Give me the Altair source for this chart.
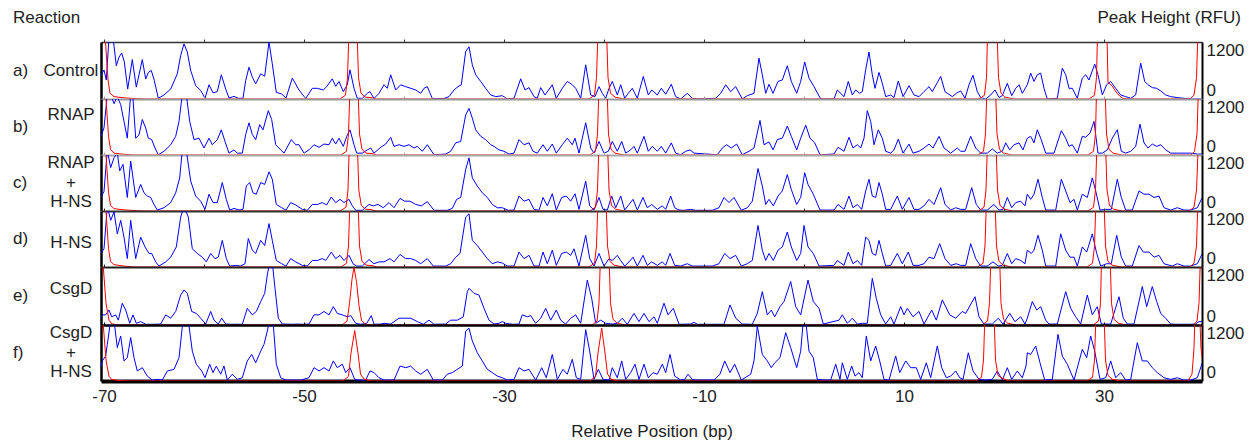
import altair as alt
import pandas as pd

# ---------------- labels ----------------
LETTERS = ["a)", "b)", "c)", "d)", "e)", "f)"]
NAMES = ["Control", "RNAP", "RNAP\n+\nH-NS", "H-NS", "CsgD", "CsgD\n+\nH-NS"]
NAME_DY = [0, -12, -20, 4, -7, -20]
X_LABEL_TICKS = [-70, -50, -30, -10, 10, 30]
X_MINOR_TICKS = [-70, -60, -50, -40, -30, -20, -10, 0, 10, 20, 30]
Y_TICKS = [0, 1200]
X_DOMAIN = [-70.3, 39.8]
Y_DOMAIN = [0, 1200]

# ---------------- blue traces (position bp, RFU) ----------------
BLUE_A = [(-70.3, 500), (-70.0, 610), (-69.77, 400), (-69.5, 1300), (-69.1, 1300), (-68.77, 700), (-68.5, 880), (-68.23, 970), (-67.97, 780), (-67.63, 210), (-67.17, 830), (-66.77, 250), (-66.17, 830), (-65.83, 420), (-65.57, 560), (-65.27, 600), (-64.97, 390), (-64.57, 15), (-64.0, 85), (-63.33, 210), (-62.67, 530), (-62.33, 920), (-62.0, 1160), (-61.67, 990), (-61.33, 600), (-60.83, 280), (-60.33, 180), (-59.9, 15), (-59.5, 300), (-59.1, 130), (-58.67, 155), (-58.27, 510), (-57.83, 210), (-57.5, 20), (-57.0, 55), (-56.57, 15), (-56.1, 15), (-55.83, 390), (-55.5, 670), (-55.17, 460), (-54.83, 320), (-54.33, 530), (-53.93, 480), (-53.5, 1200), (-53.17, 740), (-52.77, 140), (-52.23, 105), (-51.8, 20),
          (-51.17, 440), (-50.5, 190), (-49.83, 10), (-49.17, 225), (-48.67, 225), (-48.07, 190), (-47.73, 260), (-47.17, 425), (-46.83, 265), (-46.5, 370), (-46.07, 155), (-45.67, 300), (-45.4, 615), (-45.0, 225), (-44.67, 15), (-44.17, 15), (-43.67, 120), (-43.4, 155), (-43.0, 10), (-42.5, 120), (-42.0, 300), (-41.67, 225), (-41.33, 510), (-40.83, 190), (-40.33, 300), (-39.83, 260), (-39.33, 225), (-38.83, 190), (-38.33, 120), (-38.0, 225), (-37.67, 260), (-37.17, 10), (-36.0, 10), (-35.5, 50), (-35.0, 190), (-34.6, 260), (-34.27, 300), (-33.83, 1000), (-33.5, 1100),
          (-33.17, 720), (-32.83, 510), (-32.33, 370), (-31.83, 225), (-31.33, 85), (-30.83, 50), (-30.17, 70), (-29.67, 0), (-29.0, 15), (-28.33, 425), (-27.9, 190), (-27.5, 240), (-27.0, 50), (-26.67, 15), (-26.33, 240), (-25.9, 85), (-25.17, 300), (-24.77, 15), (-24.17, 225), (-23.67, 370), (-23.17, 300), (-22.83, 225), (-22.33, 15), (-21.83, 720), (-21.33, 85), (-20.9, 50), (-20.5, 260), (-20.17, 120), (-19.83, 15), (-19.5, 225), (-19.17, 370), (-18.67, 85), (-18.33, 300), (-17.93, 15), (-17.57, 120), (-17.17, 225), (-16.67, 15), (-16.07, 475), (-15.57, 85), (-15.23, 190),
          (-14.67, 85), (-14.27, 225), (-13.83, 100), (-13.27, 310), (-12.83, 50), (-12.33, 0), (-11.67, 120), (-11.17, 15), (-10.67, 0), (-8.83, 15), (-8.33, 120), (-7.83, 300), (-7.33, 155), (-6.83, 260), (-6.17, 0), (-5.67, 70), (-5.0, 120), (-4.5, 860), (-4.17, 510), (-3.83, 120), (-3.5, 310), (-3.1, 120), (-2.6, 370), (-2.17, 400), (-1.67, 700), (-1.27, 370), (-0.73, 120), (-0.33, 370), (0.07, 780), (0.5, 440), (1.0, 260), (1.67, 0), (3.0, 0), (3.33, 190),
          (4.0, 50), (4.43, 370), (4.83, 85), (5.17, 190), (5.57, 120), (5.83, 155), (6.17, 615), (6.5, 990), (6.83, 510), (7.1, 225), (7.5, 560), (7.83, 330), (8.17, 50), (8.67, 85), (9.0, 30), (9.43, 380), (9.9, 50), (10.5, 280), (11.0, 85), (11.5, 50), (12.0, 155), (12.5, 260), (12.83, 155), (13.67, 475), (14.1, 155), (14.83, 50), (15.23, 120), (15.67, 170), (16.1, 15), (16.5, 300), (16.9, 500), (17.33, 155), (17.67, 30), (18.17, 0), (18.67, 85), (19.1, 190), (19.5, 30), (19.83, 70), (20.33, 330), (20.77, 70), (21.17, 225), (21.5, 300), (21.83, 120),
          (22.33, 300), (22.67, 545), (23.0, 370), (23.33, 510), (23.67, 545), (24.0, 225), (24.33, 0), (25.33, 15), (25.83, 650), (26.17, 510), (26.5, 225), (26.83, 225), (27.33, 15), (27.83, 440), (28.17, 510), (28.5, 400), (29.07, 735), (29.4, 510), (29.83, 85), (30.27, 300), (30.67, 370), (31.17, 225), (31.67, 85), (32.17, 50), (32.67, 15), (33.17, 85), (33.67, 755), (34.07, 370), (34.4, 300), (34.83, 240), (35.27, 225), (35.67, 170), (36.17, 85), (36.67, 50), (37.33, 30), (38.0, 15), (38.67, 0), (39.33, 0), (40.0, 0)]

BLUE_B = [(-70.3, 400), (-70.0, 580), (-69.67, 1300), (-69.33, 1300), (-69.0, 1100), (-68.67, 1250), (-68.33, 1080), (-68.0, 720), (-67.67, 360), (-67.33, 1300), (-67.1, 1200), (-66.83, 360), (-66.5, 430), (-66.17, 760), (-65.83, 580), (-65.57, 360), (-65.23, 330), (-64.9, 150), (-64.57, 5), (-64.0, 80), (-63.33, 220), (-62.83, 400), (-62.5, 720), (-62.17, 1300), (-61.77, 1300), (-61.43, 720), (-61.0, 330), (-60.5, 360), (-60.0, 150), (-59.5, 360), (-59.17, 220), (-58.67, 330), (-58.27, 540), (-57.9, 290), (-57.5, 40), (-57.0, 110), (-56.67, 40), (-56.17, 40), (-55.83, 440), (-55.5, 690), (-55.17, 440), (-54.83, 330), (-54.43, 650), (-54.1, 540), (-53.57, 950), (-53.23, 760), (-52.83, 220), (-52.33, 110), (-52.0, 40),
          (-51.27, 330), (-50.83, 220), (-50.5, 220), (-50.0, 40), (-49.5, 110), (-49.0, 220), (-48.5, 165), (-48.0, 235), (-47.5, 220), (-47.17, 360), (-46.83, 235), (-46.5, 360), (-46.07, 185), (-45.73, 400), (-45.4, 540), (-45.0, 220), (-44.73, 40), (-44.17, 40), (-43.67, 110), (-43.33, 150), (-43.0, 40), (-42.33, 165), (-41.83, 235), (-41.33, 380), (-41.0, 185), (-40.5, 220), (-40.0, 185), (-39.5, 220), (-39.0, 150), (-38.67, 185), (-38.17, 80), (-37.67, 220), (-37.0, 5), (-35.83, 20), (-35.33, 80), (-34.83, 260), (-34.33, 290), (-33.83, 860), (-33.5, 1000),
          (-33.17, 790), (-32.83, 540), (-32.33, 400), (-31.83, 330), (-31.33, 220), (-31.0, 185), (-30.5, 110), (-30.0, 80), (-29.5, 20), (-29.0, 40), (-28.5, 330), (-28.0, 220), (-27.5, 260), (-27.1, 80), (-26.67, 40), (-26.1, 220), (-25.67, 80), (-25.17, 235), (-24.77, 40), (-24.17, 220), (-23.67, 360), (-23.17, 220), (-22.9, 360), (-22.5, 40), (-21.83, 690), (-21.33, 150), (-21.0, 40), (-20.5, 290), (-20.0, 40), (-19.57, 80), (-19.17, 290), (-18.67, 80), (-18.23, 290), (-17.83, 40), (-17.33, 110), (-17.0, 185), (-16.67, 40), (-16.0, 400), (-15.57, 80), (-15.17, 185),
          (-14.67, 80), (-14.27, 185), (-13.83, 40), (-13.27, 260), (-12.83, 40), (-12.33, 5), (-11.83, 80), (-11.4, 110), (-11.0, 40), (-8.67, 5), (-8.17, 150), (-7.73, 220), (-7.27, 150), (-6.73, 235), (-6.17, 5), (-5.5, 80), (-5.0, 150), (-4.4, 740), (-4.0, 220), (-3.5, 280), (-3.1, 110), (-2.67, 330), (-2.17, 360), (-1.67, 620), (-1.27, 400), (-0.73, 110), (-0.33, 360), (0.17, 640), (0.6, 360), (1.07, 260), (1.6, 5), (3.0, 20), (3.4, 165),
          (4.0, 80), (4.5, 380), (4.9, 150), (5.33, 220), (5.67, 150), (6.0, 360), (6.33, 950), (6.67, 720), (7.0, 220), (7.43, 540), (7.83, 360), (8.17, 80), (8.67, 40), (9.0, 110), (9.43, 340), (9.9, 40), (10.5, 235), (10.9, 40), (11.5, 80), (12.0, 150), (12.5, 235), (12.9, 150), (13.5, 400), (14.0, 150), (14.67, 40), (15.33, 150), (15.67, 80), (16.1, 80), (16.67, 400), (17.17, 150), (17.67, 40), (18.33, 40), (18.83, 130), (19.33, 40), (19.83, 80), (20.17, 260), (20.57, 110), (21.0, 220), (21.5, 260), (21.9, 110),
          (22.33, 360), (22.67, 400), (23.0, 260), (23.33, 540), (23.67, 360), (24.17, 40), (25.0, 40), (25.73, 520), (26.17, 360), (26.5, 185), (26.83, 220), (27.33, 40), (27.83, 400), (28.17, 380), (28.6, 470), (29.0, 720), (29.4, 40), (29.83, 40), (30.33, 110), (30.83, 360), (31.33, 540), (31.73, 80), (32.17, 40), (32.67, 80), (33.17, 185), (33.6, 660), (34.0, 260), (34.4, 150), (34.83, 235), (35.27, 185), (35.67, 220), (36.17, 110), (36.67, 40), (37.33, 40), (38.0, 40), (38.67, 40), (39.33, 20), (39.8, 20)]

BLUE_C = [(-70.3, 300), (-70.0, 420), (-69.67, 1300), (-69.33, 930), (-69.0, 1140), (-68.67, 1250), (-68.43, 860), (-68.1, 1000), (-67.67, 290), (-67.33, 1070), (-66.83, 290), (-66.33, 570), (-66.0, 390), (-65.67, 320), (-65.33, 290), (-65.0, 140), (-64.67, 20), (-64.0, 70), (-63.33, 180), (-62.83, 390), (-62.43, 710), (-62.17, 1300), (-61.77, 1300), (-61.33, 640), (-60.83, 320), (-60.33, 210), (-59.9, 35), (-59.5, 360), (-59.1, 180), (-58.67, 180), (-58.17, 610), (-57.77, 250), (-57.43, 20), (-57.0, 55), (-56.5, 20), (-56.1, 35), (-55.77, 535), (-55.43, 610), (-55.1, 390), (-54.77, 360), (-54.33, 610), (-53.93, 570), (-53.5, 840), (-53.17, 680), (-52.77, 140), (-52.23, 70), (-51.8, 20),
          (-51.33, 180), (-50.83, 130), (-50.17, 35), (-49.67, 15), (-49.17, 140), (-48.67, 140), (-48.17, 180), (-47.73, 130), (-47.27, 300), (-46.83, 180), (-46.4, 250), (-46.0, 180), (-45.5, 250), (-45.17, 110), (-44.83, 15), (-44.17, 15), (-43.5, 140), (-43.07, 110), (-42.6, 140), (-42.07, 70), (-41.5, 180), (-41.0, 70), (-40.4, 270), (-39.93, 210), (-39.4, 210), (-38.83, 140), (-38.27, 110), (-37.67, 200), (-37.0, 15), (-35.67, 15), (-35.17, 55), (-34.73, 250), (-34.33, 290), (-33.83, 890), (-33.5, 1140),
          (-33.17, 710), (-32.67, 535), (-32.17, 390), (-31.67, 290), (-31.17, 140), (-30.67, 70), (-30.17, 70), (-29.57, 15), (-29.0, 20), (-28.5, 320), (-28.0, 210), (-27.5, 250), (-27.0, 35), (-26.5, 15), (-26.1, 290), (-25.67, 110), (-25.17, 370), (-24.77, 20), (-24.23, 290), (-23.77, 320), (-23.33, 210), (-22.9, 370), (-22.5, 35), (-21.83, 640), (-21.43, 110), (-21.0, 20), (-20.5, 290), (-20.1, 35), (-19.67, 20), (-19.23, 320), (-18.83, 70), (-18.33, 320), (-17.93, 20), (-17.5, 140), (-17.1, 250), (-16.67, 20), (-16.1, 290), (-15.67, 70), (-15.23, 140),
          (-14.67, 35), (-14.17, 110), (-13.83, 35), (-13.33, 320), (-12.93, 70), (-12.5, 20), (-12.0, 15), (-11.33, 35), (-10.83, 15), (-9.17, 15), (-8.5, 70), (-8.0, 290), (-7.5, 180), (-7.0, 290), (-6.27, 15), (-5.67, 70), (-5.17, 210), (-4.6, 910), (-4.17, 535), (-3.83, 140), (-3.5, 250), (-3.07, 110), (-2.6, 320), (-2.17, 430), (-1.67, 780), (-1.27, 460), (-0.73, 140), (-0.33, 290), (0.07, 820), (0.4, 570), (0.93, 360), (1.6, 20), (3.0, 20), (3.4, 140),
          (4.0, 35), (4.5, 320), (4.9, 70), (5.33, 140), (5.77, 35), (6.17, 430), (6.5, 680), (6.83, 320), (7.17, 290), (7.5, 610), (7.83, 360), (8.17, 35), (8.67, 35), (9.33, 320), (9.83, 35), (10.5, 290), (11.0, 35), (11.5, 35), (12.0, 110), (12.5, 250), (13.0, 140), (13.67, 500), (14.1, 140), (14.67, 20), (15.17, 70), (15.67, 35), (16.17, 35), (16.77, 500), (17.23, 140), (17.67, 20), (18.33, 20), (19.0, 140), (19.5, 20), (19.9, 35), (20.33, 290), (20.77, 70), (21.17, 180), (21.67, 210), (22.1, 110),
          (22.33, 360), (22.67, 250), (23.0, 360), (23.4, 680), (23.83, 290), (24.17, 20), (25.17, 20), (25.73, 680), (26.17, 430), (26.6, 180), (27.0, 250), (27.33, 20), (27.83, 360), (28.33, 290), (28.83, 710), (29.17, 430), (29.6, 20), (30.17, 35), (30.73, 35), (31.33, 680), (31.73, 290), (32.17, 20), (32.83, 20), (33.5, 430), (34.0, 360), (34.5, 360), (35.0, 290), (35.5, 320), (36.0, 70), (36.67, 20), (37.33, 70), (38.0, 20), (38.67, 20), (39.33, 70), (39.83, 290)]

BLUE_D = [(-70.3, 300), (-70.0, 390), (-69.67, 1300), (-69.33, 1000), (-69.0, 1180), (-68.67, 710), (-68.33, 1000), (-68.0, 640), (-67.67, 180), (-67.33, 1000), (-66.83, 180), (-66.33, 640), (-65.9, 430), (-65.5, 290), (-65.23, 290), (-64.83, 110), (-64.5, 20), (-63.83, 110), (-63.33, 210), (-62.77, 430), (-62.33, 1070), (-62.0, 1300), (-61.57, 1070), (-61.17, 390), (-60.67, 290), (-60.17, 210), (-59.77, 110), (-59.33, 290), (-58.9, 180), (-58.57, 210), (-58.17, 570), (-57.77, 180), (-57.43, 20), (-56.83, 35), (-56.33, 20), (-55.9, 70), (-55.57, 610), (-55.17, 360), (-54.83, 290), (-54.33, 570), (-53.93, 460), (-53.5, 930), (-53.17, 570), (-52.77, 140), (-52.23, 70), (-51.8, 20),
          (-51.33, 180), (-50.83, 110), (-50.17, 35), (-49.67, 20), (-49.17, 140), (-48.67, 140), (-48.17, 180), (-47.83, 140), (-47.27, 320), (-46.83, 180), (-46.4, 250), (-46.0, 140), (-45.5, 250), (-45.1, 70), (-44.73, 20), (-44.17, 20), (-43.5, 160), (-43.0, 70), (-42.5, 110), (-42.0, 110), (-41.4, 180), (-41.0, 110), (-40.4, 270), (-39.83, 180), (-39.33, 180), (-38.83, 140), (-38.33, 70), (-37.67, 180), (-37.07, 20), (-35.83, 20), (-35.33, 70), (-34.83, 210), (-34.4, 290), (-33.83, 1070), (-33.5, 1140),
          (-33.17, 570), (-32.67, 460), (-32.17, 320), (-31.67, 180), (-31.17, 70), (-30.67, 110), (-30.17, 85), (-29.67, 20), (-29.0, 20), (-28.5, 320), (-28.0, 180), (-27.5, 250), (-27.0, 20), (-26.5, 20), (-26.1, 320), (-25.67, 70), (-25.17, 360), (-24.77, 35), (-24.23, 290), (-23.77, 320), (-23.33, 250), (-23.0, 390), (-22.5, 20), (-21.83, 680), (-21.43, 180), (-21.0, 20), (-20.5, 290), (-20.0, 20), (-19.5, 180), (-19.17, 140), (-18.67, 250), (-18.33, 140), (-17.93, 20), (-17.5, 110), (-17.1, 210), (-16.67, 20), (-16.1, 250), (-15.67, 35), (-15.23, 110),
          (-14.67, 35), (-14.17, 110), (-13.83, 35), (-13.4, 290), (-12.93, 35), (-12.33, 20), (-11.67, 70), (-11.17, 20), (-9.17, 20), (-8.5, 70), (-7.93, 290), (-7.4, 180), (-6.83, 250), (-6.27, 20), (-5.67, 70), (-5.17, 140), (-4.6, 890), (-4.17, 360), (-3.83, 140), (-3.5, 290), (-3.07, 140), (-2.6, 360), (-2.17, 430), (-1.67, 750), (-1.27, 430), (-0.73, 140), (-0.33, 290), (0.0, 890), (0.4, 430), (0.93, 290), (1.5, 20), (3.0, 35), (3.33, 140),
          (4.0, 35), (4.43, 320), (4.9, 70), (5.33, 140), (5.77, 35), (6.17, 640), (6.5, 570), (6.83, 290), (7.17, 250), (7.5, 570), (7.83, 290), (8.17, 20), (8.67, 35), (9.33, 290), (9.83, 70), (10.43, 320), (10.9, 35), (11.5, 35), (12.0, 70), (12.5, 210), (13.0, 180), (13.57, 500), (14.1, 180), (14.67, 35), (15.23, 70), (15.67, 35), (16.17, 35), (16.67, 500), (17.17, 180), (17.67, 20), (18.33, 20), (18.9, 110), (19.43, 20), (19.83, 35), (20.33, 290), (20.77, 70), (21.17, 180), (21.67, 140), (22.1, 70),
          (22.33, 360), (22.73, 290), (23.0, 360), (23.4, 680), (23.83, 360), (24.17, 20), (25.17, 20), (25.67, 710), (26.17, 360), (26.6, 210), (27.0, 210), (27.33, 20), (27.83, 430), (28.27, 320), (28.83, 710), (29.27, 290), (29.67, 20), (30.27, 70), (30.73, 70), (31.27, 680), (31.73, 210), (32.17, 20), (32.83, 20), (33.5, 460), (33.93, 320), (34.5, 320), (35.0, 210), (35.5, 250), (36.0, 70), (36.83, 20), (37.33, 70), (38.0, 20), (38.67, 20), (39.33, 70), (39.83, 290)]

BLUE_E = [(-70.3, 150), (-70.17, 210), (-69.83, 210), (-69.5, 310), (-69.23, 170), (-68.83, 210), (-68.57, 100), (-68.17, 450), (-67.83, 310), (-67.43, 35), (-67.1, 210), (-66.77, 35), (-66.33, 70), (-65.83, 15), (-65.0, 15), (-64.33, 20), (-63.83, 210), (-63.33, 140), (-62.83, 280), (-62.33, 620), (-62.0, 725), (-61.67, 655), (-61.23, 280), (-60.77, 240), (-60.33, 140), (-59.83, 20), (-59.33, 280), (-59.0, 100), (-58.57, 20), (-58.23, 140), (-57.83, 20), (-57.33, 15), (-56.17, 15), (-55.67, 345), (-55.17, 210), (-54.77, 280), (-54.33, 485), (-53.93, 655), (-53.67, 1035), (-53.43, 1300), (-53.17, 1300), (-52.9, 760), (-52.57, 140), (-52.17, 20),
          (-51.17, 15), (-50.67, 20), (-50.17, 15), (-49.5, 20), (-49.0, 210), (-48.5, 210), (-48.0, 280), (-47.5, 210), (-47.07, 380), (-46.67, 240), (-46.17, 210), (-45.67, 170), (-45.33, 195), (-44.83, 35), (-44.33, 15), (-43.73, 35), (-43.27, 195), (-43.0, 15), (-42.33, 20), (-42.0, 35), (-41.33, 20), (-40.5, 140), (-39.83, 140), (-39.33, 140), (-38.67, 70), (-38.07, 15), (-37.5, 100), (-37.0, 15), (-35.83, 20), (-35.33, 100), (-34.67, 100), (-34.07, 170), (-33.67, 690), (-33.5, 760),
          (-33.0, 655), (-32.5, 620), (-32.0, 345), (-31.5, 100), (-31.0, 20), (-30.5, 35), (-30.17, 70), (-29.83, 35), (-29.17, 15), (-28.5, 20), (-28.17, 210), (-27.67, 170), (-27.33, 195), (-26.83, 35), (-26.33, 140), (-25.83, 345), (-25.33, 100), (-24.77, 310), (-24.33, 100), (-23.83, 20), (-23.33, 140), (-22.83, 210), (-22.33, 35), (-21.67, 930), (-21.23, 550), (-20.83, 35), (-20.33, 100), (-19.83, 35), (-19.17, 20), (-18.67, 35), (-18.17, 140), (-17.67, 15), (-17.0, 240), (-16.5, 70), (-16.0, 240), (-15.5, 70), (-15.0, 170),
          (-14.67, 35), (-14.0, 450), (-13.6, 210), (-13.07, 345), (-12.5, 15), (-11.33, 20), (-11.0, 55), (-10.67, 15), (-8.0, 15), (-7.4, 415), (-6.83, 140), (-6.17, 20), (-5.17, 15), (-4.67, 240), (-4.17, 690), (-3.67, 210), (-3.27, 310), (-2.93, 170), (-2.4, 380), (-2.0, 485), (-1.33, 900), (-0.83, 380), (-0.33, 210), (0.4, 930), (0.93, 485), (1.5, 345), (1.93, 20), (3.5, 100),
          (3.83, 210), (4.33, 35), (4.83, 140), (5.33, 20), (5.83, 35), (6.33, 35), (6.83, 965), (7.23, 550), (7.67, 210), (8.17, 20), (8.67, 170), (9.0, 20), (9.67, 380), (10.0, 210), (10.33, 345), (10.9, 170), (11.5, 280), (12.0, 20), (12.77, 310), (13.23, 100), (13.83, 520), (14.57, 210), (15.17, 140), (15.83, 280), (16.17, 240), (17.1, 585), (17.5, 170), (18.0, 20), (18.83, 20), (19.43, 140), (19.9, 20), (20.57, 240), (21.1, 70), (21.67, 170), (22.1, 20),
          (22.33, 140), (22.83, 485), (23.27, 310), (23.67, 380), (24.17, 100), (24.5, 20), (25.33, 20), (26.17, 690), (26.67, 345), (27.17, 170), (27.67, 20), (28.33, 620), (28.83, 210), (29.33, 380), (29.73, 20), (30.67, 20), (31.5, 585), (31.93, 140), (32.33, 20), (33.0, 20), (33.83, 795), (34.27, 380), (34.83, 795), (35.27, 485), (35.67, 240), (36.17, 140), (36.67, 20), (37.17, 15), (38.67, 15), (39.17, 20), (39.5, 70), (40.0, 70)]

BLUE_F = [(-70.3, 300), (-70.17, 430), (-69.83, 535), (-69.67, 785), (-69.33, 1300), (-69.0, 1300), (-68.67, 715), (-68.33, 965), (-68.0, 430), (-67.67, 500), (-67.33, 930), (-67.0, 500), (-66.67, 215), (-66.17, 285), (-65.67, 105), (-65.17, 20), (-64.67, 35), (-64.17, 20), (-63.67, 215), (-63.0, 250), (-62.5, 500), (-62.1, 1300), (-61.57, 1300), (-61.17, 640), (-60.77, 360), (-60.23, 215), (-59.9, 70), (-59.43, 360), (-59.1, 180), (-58.77, 320), (-58.33, 145), (-58.0, 320), (-57.67, 20), (-57.17, 145), (-56.67, 35), (-56.17, 70), (-55.67, 430), (-55.23, 570), (-54.83, 390), (-54.33, 640), (-54.0, 785), (-53.67, 1070), (-53.43, 1300), (-53.1, 1300), (-52.77, 360), (-52.33, 70), (-51.8, 20),
          (-51.0, 20), (-50.33, 20), (-49.5, 70), (-49.0, 285), (-48.5, 215), (-48.0, 285), (-47.5, 215), (-47.07, 430), (-46.67, 285), (-46.17, 360), (-45.83, 180), (-45.4, 285), (-44.93, 35), (-44.5, 20), (-43.83, 20), (-43.4, 215), (-43.0, 180), (-42.5, 70), (-42.0, 20), (-41.0, 20), (-40.4, 320), (-39.83, 285), (-39.33, 320), (-38.83, 215), (-38.33, 145), (-37.67, 250), (-37.07, 20), (-36.17, 20), (-35.67, 145), (-35.17, 180), (-34.67, 250), (-34.17, 320), (-33.83, 1070), (-33.5, 1130),
          (-33.17, 860), (-32.67, 605), (-32.17, 430), (-31.67, 250), (-31.17, 180), (-30.67, 105), (-30.17, 70), (-29.67, 20), (-29.0, 35), (-28.5, 285), (-28.0, 215), (-27.5, 250), (-26.83, 20), (-26.23, 285), (-25.77, 70), (-25.17, 570), (-24.67, 35), (-24.1, 250), (-23.67, 145), (-23.17, 465), (-22.77, 70), (-22.33, 35), (-21.83, 1100), (-21.43, 640), (-21.0, 35), (-20.57, 250), (-20.1, 35), (-19.5, 20), (-19.17, 285), (-18.67, 70), (-18.23, 430), (-17.83, 35), (-17.33, 180), (-16.9, 360), (-16.5, 35), (-16.0, 360), (-15.57, 70), (-15.1, 180),
          (-14.67, 145), (-14.17, 360), (-13.83, 180), (-13.4, 570), (-12.93, 105), (-12.33, 20), (-11.93, 35), (-11.6, 145), (-11.17, 35), (-10.83, 20), (-9.0, 20), (-8.4, 145), (-7.93, 430), (-7.4, 180), (-6.93, 360), (-6.27, 20), (-5.33, 145), (-5.0, 430), (-4.67, 1180), (-4.17, 570), (-3.67, 430), (-3.27, 285), (-2.93, 390), (-2.4, 500), (-1.83, 1035), (-1.33, 715), (-0.73, 285), (-0.33, 640), (-0.07, 1300), (0.17, 1300), (0.5, 640), (0.93, 500), (1.33, 35), (2.0, 20), (2.67, 20), (3.17, 360), (3.6, 35),
          (3.83, 390), (4.33, 35), (4.77, 320), (5.1, 105), (5.5, 180), (5.83, 70), (6.23, 965), (6.67, 430), (7.17, 750), (7.57, 430), (8.0, 35), (8.5, 20), (9.17, 535), (9.57, 180), (10.17, 430), (10.67, 285), (11.23, 285), (11.67, 35), (12.23, 390), (12.67, 70), (13.33, 750), (13.77, 285), (14.23, 70), (14.67, 105), (15.17, 215), (15.57, 70), (15.9, 35), (16.43, 605), (16.9, 215), (17.5, 35), (18.17, 20), (18.83, 35), (19.33, 215), (19.83, 20), (20.33, 285), (20.77, 35), (21.33, 215), (21.83, 70), (22.2, 320),
          (22.33, 605), (22.67, 570), (23.17, 750), (23.6, 390), (24.07, 20), (24.83, 35), (25.4, 1000), (25.83, 535), (26.33, 360), (27.0, 20), (27.83, 680), (28.27, 500), (28.67, 965), (29.07, 640), (29.6, 35), (30.17, 70), (30.67, 430), (31.17, 70), (31.67, 180), (32.17, 20), (32.67, 35), (33.33, 820), (33.83, 430), (34.33, 430), (34.83, 285), (35.33, 180), (36.0, 70), (36.67, 35), (37.33, 70), (38.0, 20), (38.67, 20), (39.33, 70), (39.83, 390)]

# ---------------- red size-standard traces (position bp, RFU) ----------------
RED_A = [(-70.3, 1800), (-69.85, 1200), (-69.6, 400), (-69.4, 120), (-69.0, 50), (-68.0, 25), (-67.0, 10), (-66.0, 0),
         (-46.4, 0), (-45.85, 80), (-45.65, 450), (-45.45, 1800), (-44.75, 1800), (-44.55, 450), (-44.3, 120), (-43.9, 40), (-43.3, 30), (-42.8, 0),
         (-21.5, 0), (-20.95, 80), (-20.75, 450), (-20.55, 1800), (-19.8, 1800), (-19.6, 450), (-19.35, 120), (-18.9, 40), (-18.0, 0),
         (17.5, 0), (18.05, 80), (18.25, 450), (18.4, 1800), (19.25, 1800), (19.45, 450), (19.7, 120), (20.1, 40), (21.0, 0),
         (28.5, 0), (29.05, 80), (29.25, 450), (29.4, 1800), (30.25, 1800), (30.4, 350), (30.8, 280), (31.3, 120), (31.8, 20), (32.3, 0),
         (38.6, 0), (39.0, 80), (39.25, 450), (39.45, 1800), (40.0, 1800)]

RED_B = [(-70.3, 1800), (-69.8, 1200), (-69.55, 400), (-69.35, 120), (-69.0, 40), (-68.0, 15), (-67.0, 0),
         (-46.3, 0), (-45.75, 80), (-45.55, 450), (-45.35, 1800), (-44.65, 1800), (-44.45, 450), (-44.2, 120), (-43.8, 40), (-43.2, 30), (-42.7, 0),
         (-21.4, 0), (-20.85, 80), (-20.65, 450), (-20.45, 1800), (-19.75, 1800), (-19.55, 450), (-19.3, 120), (-18.9, 40), (-18.0, 0),
         (17.4, 0), (17.95, 80), (18.15, 450), (18.35, 1800), (19.1, 1800), (19.3, 450), (19.55, 120), (19.95, 40), (20.8, 0),
         (28.4, 0), (28.95, 80), (29.15, 450), (29.3, 1800), (30.05, 1800), (30.25, 450), (30.5, 120), (30.9, 40), (31.8, 0),
         (38.7, 0), (39.05, 80), (39.3, 450), (39.5, 1800), (40.0, 1800)]

RED_C = [(-70.3, 1800), (-69.8, 1200), (-69.55, 400), (-69.35, 120), (-69.0, 50), (-68.0, 25), (-67.0, 10), (-66.0, 0),
         (-46.4, 0), (-45.8, 80), (-45.6, 450), (-45.42, 1800), (-44.72, 1800), (-44.52, 450), (-44.27, 120), (-43.87, 40), (-43.3, 30), (-42.8, 0),
         (-21.4, 0), (-20.85, 80), (-20.65, 450), (-20.45, 1800), (-19.7, 1800), (-19.5, 450), (-19.25, 120), (-18.85, 40), (-18.0, 0),
         (17.45, 0), (18.0, 80), (18.2, 450), (18.4, 1800), (19.15, 1800), (19.35, 450), (19.6, 120), (20.0, 40), (20.9, 0),
         (28.4, 0), (28.95, 80), (29.15, 450), (29.35, 1800), (30.1, 1800), (30.3, 450), (30.55, 120), (30.95, 40), (31.8, 0),
         (38.5, 0), (39.0, 80), (39.25, 450), (39.5, 1800), (40.0, 1800)]

RED_D = [(-70.3, 1800), (-69.8, 1200), (-69.55, 400), (-69.35, 120), (-69.0, 50), (-68.0, 20), (-67.0, 0),
         (-46.3, 0), (-45.75, 80), (-45.55, 450), (-45.35, 1800), (-44.65, 1800), (-44.45, 450), (-44.2, 120), (-43.8, 40), (-43.2, 30), (-42.7, 0),
         (-21.5, 0), (-20.95, 80), (-20.75, 450), (-20.55, 1800), (-19.85, 1800), (-19.65, 450), (-19.4, 120), (-19.0, 40), (-18.1, 0),
         (17.35, 0), (17.9, 80), (18.1, 450), (18.3, 1800), (19.05, 1800), (19.25, 450), (19.5, 120), (19.9, 40), (20.8, 0),
         (28.3, 0), (28.85, 80), (29.05, 450), (29.25, 1800), (29.95, 1800), (30.15, 450), (30.4, 120), (30.8, 40), (31.7, 0),
         (38.6, 0), (39.0, 80), (39.25, 450), (39.45, 1800), (40.0, 1800)]

RED_E = [(-70.3, 1800), (-70.0, 1000), (-69.8, 450), (-69.5, 100), (-69.2, 20), (-68.5, 0),
         (-46.2, 0), (-45.7, 80), (-45.45, 450), (-45.2, 950), (-45.0, 1190), (-44.75, 900), (-44.5, 400), (-44.25, 100), (-43.9, 20), (-43.3, 0),
         (-21.2, 0), (-20.7, 80), (-20.5, 450), (-20.3, 1800), (-19.55, 1800), (-19.35, 450), (-19.1, 120), (-18.7, 40), (-17.9, 0),
         (17.8, 0), (18.35, 80), (18.55, 450), (18.75, 1800), (19.5, 1800), (19.7, 450), (19.95, 120), (20.35, 40), (21.2, 0),
         (28.9, 0), (29.45, 80), (29.65, 450), (29.8, 1800), (30.55, 1800), (30.75, 450), (31.0, 120), (31.4, 40), (32.2, 0),
         (38.9, 0), (39.3, 80), (39.5, 450), (39.7, 1800), (40.0, 1800)]

RED_F = [(-70.3, 1800), (-70.0, 1000), (-69.8, 450), (-69.5, 100), (-69.2, 30), (-68.5, 10), (-67.5, 0),
         (-46.1, 0), (-45.55, 100), (-45.3, 600), (-44.93, 1080), (-44.6, 600), (-44.35, 150), (-44.0, 40), (-43.3, 0),
         (-21.4, 0), (-20.85, 100), (-20.6, 600), (-20.23, 1135), (-19.9, 600), (-19.65, 150), (-19.3, 40), (-18.6, 0),
         (17.2, 0), (17.75, 80), (17.95, 450), (18.15, 1800), (18.95, 1800), (19.15, 450), (19.4, 120), (19.8, 60), (20.5, 0),
         (28.3, 0), (28.85, 80), (29.05, 450), (29.25, 1800), (29.95, 1800), (30.15, 450), (30.4, 120), (30.8, 40), (31.7, 0),
         (38.4, 0), (38.8, 150), (39.0, 700), (39.15, 1800), (39.5, 1800), (39.7, 700), (39.85, 450)]

BLUES = [BLUE_A, BLUE_B, BLUE_C, BLUE_D, BLUE_E, BLUE_F]
REDS = [RED_A, RED_B, RED_C, RED_D, RED_E, RED_F]

# ---------------- styling (not data) ----------------
PANEL_HEIGHTS = [57, 56, 56, 56, 58, 56]
PLOT_WIDTH = 1101
TOP_LINE_COLORS = ["#333333", "#9a9a9a", "#a8a8a8", "#333333", "#222222", "#000000"]
TOP_LINE_WIDTHS = [1.5, 2, 2, 2, 2, 2.5]
FONT = "Liberation Sans"
TXT = "#222222"
FS = 17


def to_df(points):
    df = pd.DataFrame(points, columns=["pos", "rfu"])
    df["i"] = range(len(df))
    return df


x_scale = alt.Scale(domain=X_DOMAIN, nice=False, zero=False)
y_scale = alt.Scale(domain=Y_DOMAIN, nice=False, zero=False)

panels = []
for k in range(6):
    h = PANEL_HEIGHTS[k]
    last = k == 5
    top_axis = alt.Axis(orient="top", values=X_MINOR_TICKS, labels=False, ticks=True, tickSize=3,
                        tickColor=TOP_LINE_COLORS[k], domainColor=TOP_LINE_COLORS[k],
                        domainWidth=TOP_LINE_WIDTHS[k], grid=False, title=None)
    left_axis = alt.Axis(orient="left", labels=False, ticks=False, domainColor="#000000",
                         domainWidth=2.5, grid=False, title=None)
    right_axis = alt.Axis(orient="right", values=Y_TICKS, ticks=False, grid=False, title=None,
                          domainColor="#000000", domainWidth=2, labelFont=FONT, labelFontSize=FS,
                          labelColor=TXT, labelPadding=4, labelExpr="'' + datum.value",
                          labelBaseline={"condition": {"test": "datum.value === 0", "value": "bottom"},
                                         "value": "top"})
    if last:
        x_red = alt.X("pos:Q", scale=x_scale, axis=alt.Axis(
            orient="bottom", values=X_LABEL_TICKS, ticks=False, grid=False,
            domainColor="#000000", domainWidth=4, labelFont=FONT, labelFontSize=FS,
            labelColor=TXT, labelPadding=7, labelExpr="'' + datum.value",
            title="Relative Position (bp)", titleFont=FONT, titleFontSize=FS,
            titleFontWeight="normal", titleColor=TXT, titlePadding=19))
    else:
        x_red = alt.X("pos:Q", scale=x_scale, axis=None)

    blue = alt.Chart(to_df(BLUES[k])).mark_line(color="#0000ff", strokeWidth=1, clip=True).encode(
        x=alt.X("pos:Q", scale=x_scale, axis=top_axis),
        y=alt.Y("rfu:Q", scale=y_scale, axis=left_axis),
        order="i:Q",
    )
    red = alt.Chart(to_df(REDS[k])).mark_line(color="#ff0000", strokeWidth=1, clip=True).encode(
        x=x_red,
        y=alt.Y("rfu:Q", scale=y_scale, axis=right_axis),
        order="i:Q",
    )
    letter = alt.Chart(pd.DataFrame({"t": [LETTERS[k]]})).mark_text(
        align="left", baseline="middle", font=FONT, fontSize=FS, color=TXT
    ).encode(text="t:N", x=alt.value(-88), y=alt.value(h / 2))
    name = alt.Chart(pd.DataFrame({"t": [NAMES[k]]})).mark_text(
        align="center", baseline="middle", font=FONT, fontSize=FS, color=TXT,
        lineBreak="\n", lineHeight=19.5, dy=NAME_DY[k]
    ).encode(text="t:N", x=alt.value(-30), y=alt.value(h / 2))
    layers = [blue, red, letter, name]
    if k == 0:
        head_l = alt.Chart(pd.DataFrame({"t": ["Reaction"]})).mark_text(
            align="left", baseline="middle", font=FONT, fontSize=FS, color=TXT
        ).encode(text="t:N", x=alt.value(-88), y=alt.value(-24))
        head_r = alt.Chart(pd.DataFrame({"t": ["Peak Height (RFU)"]})).mark_text(
            align="right", baseline="middle", font=FONT, fontSize=FS, color=TXT
        ).encode(text="t:N", x=alt.value(PLOT_WIDTH + 39), y=alt.value(-24))
        layers += [head_l, head_r]
    panel = alt.layer(*layers).resolve_axis(x="independent", y="independent").properties(
        width=PLOT_WIDTH, height=h)
    panels.append(panel)

chart = alt.vconcat(*panels, spacing=0, bounds="flush").properties(
    padding={"left": 12, "top": 8, "right": 5, "bottom": 5}
).configure_view(strokeWidth=0).configure(font=FONT, background="white")

chart.save("out.html", embed_options={"renderer": "svg", "actions": False})
